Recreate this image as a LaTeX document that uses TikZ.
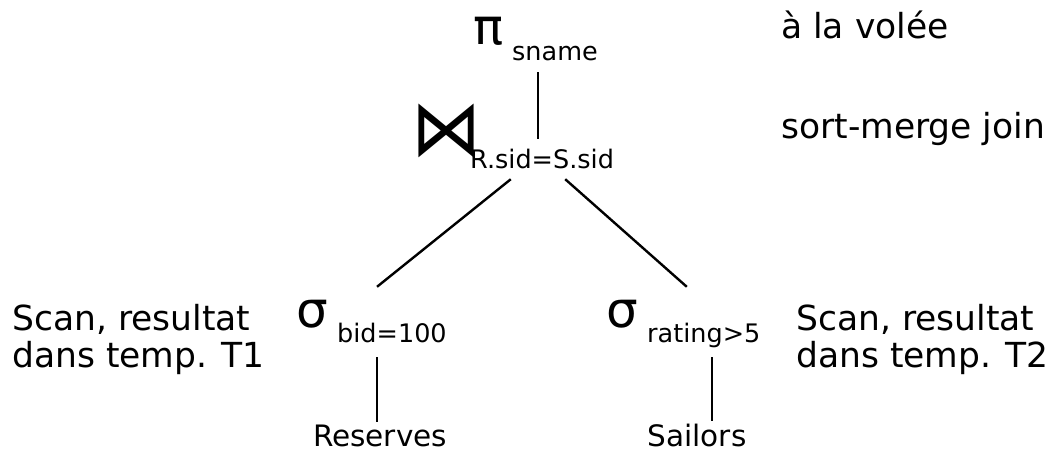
\documentclass[tikz,border=0pt]{standalone}
\usepackage{fontspec}
\usepackage{graphicx}
\setmainfont{DejaVu Sans}
\newcommand{\opfont}{\fontsize{50}{50}\selectfont}
\newcommand{\joinfont}{\fontsize{70}{70}\selectfont}
\newcommand{\condfont}{\fontsize{25.5}{26}\selectfont}
\newcommand{\relfont}{\fontsize{29.5}{30}\selectfont}
\newcommand{\notefont}{\fontsize{34.5}{37}\selectfont}
\begin{document}
\begin{tikzpicture}[x=1pt,y=-1pt]
		\useasboundingbox (0,0) rectangle (1052,452);

		% operator symbols and their conditions
		\begin{scope}[every node/.style={anchor=base west,inner sep=0pt}]
			\node[font=\opfont] (pi) at (473,45) {π};
			\node[font=\condfont] (piCond) at (512,60) {sname};
			\node[font=\joinfont] (bowtie) at (411,155) {\scalebox{1}[1.12]{⋈}};
			\node[font=\condfont] (joinCond) at (470,168) {R.sid=S.sid};
			\node[font=\opfont] (sigmaR) at (296,327) {σ};
			\node[font=\condfont] (sigmaRCond) at (337,342) {bid=100};
			\node[font=\opfont] (sigmaS) at (606,327) {σ};
			\node[font=\condfont] (sigmaSCond) at (647,342) {rating>5};
		\end{scope}

		% places where the tree lines meet the operators
		\begin{scope}[every node/.style={inner sep=0pt,minimum width=0pt}]
			\node[minimum height=24pt] (proj) at (538,60) {};
			\node[minimum width=54pt,minimum height=40pt] (join) at (538,159) {};
			\node[minimum height=70pt] (selR) at (377,322) {};
			\node[minimum width=50pt,minimum height=70pt] (selS) at (712,322) {};
		\end{scope}

		% relations
		\begin{scope}[every node/.style={anchor=base,inner sep=0pt,font=\relfont}]
			\node (res) at (380,446) {Reserves};
			\node (sail) at (697,446) {Sailors};
		\end{scope}

		% notes
		\begin{scope}[every node/.style={anchor=base west,inner sep=0pt,align=left,font=\notefont}]
			\node (noteProj) at (781,39) {à la volée};
			\node (noteJoin) at (781,138) {sort-merge join};
			\node (noteR) at (12,367) {Scan, resultat\\dans temp. T1};
			\node (noteS) at (796,367) {Scan, resultat\\dans temp. T2};
		\end{scope}

		\begin{scope}[line width=2.4pt]
			\draw (proj.south) -- (join.north);
			\draw (join.south west) -- (selR.north);
			\draw (join.south east) -- (selS.north west);
			\draw[shorten >=2pt] (selR.south) -- (res.north -| selR.south);
			\draw[shorten >=2pt] (selS.south) -- (sail.north -| selS.south);
		\end{scope}
	\end{tikzpicture}
\end{document}
